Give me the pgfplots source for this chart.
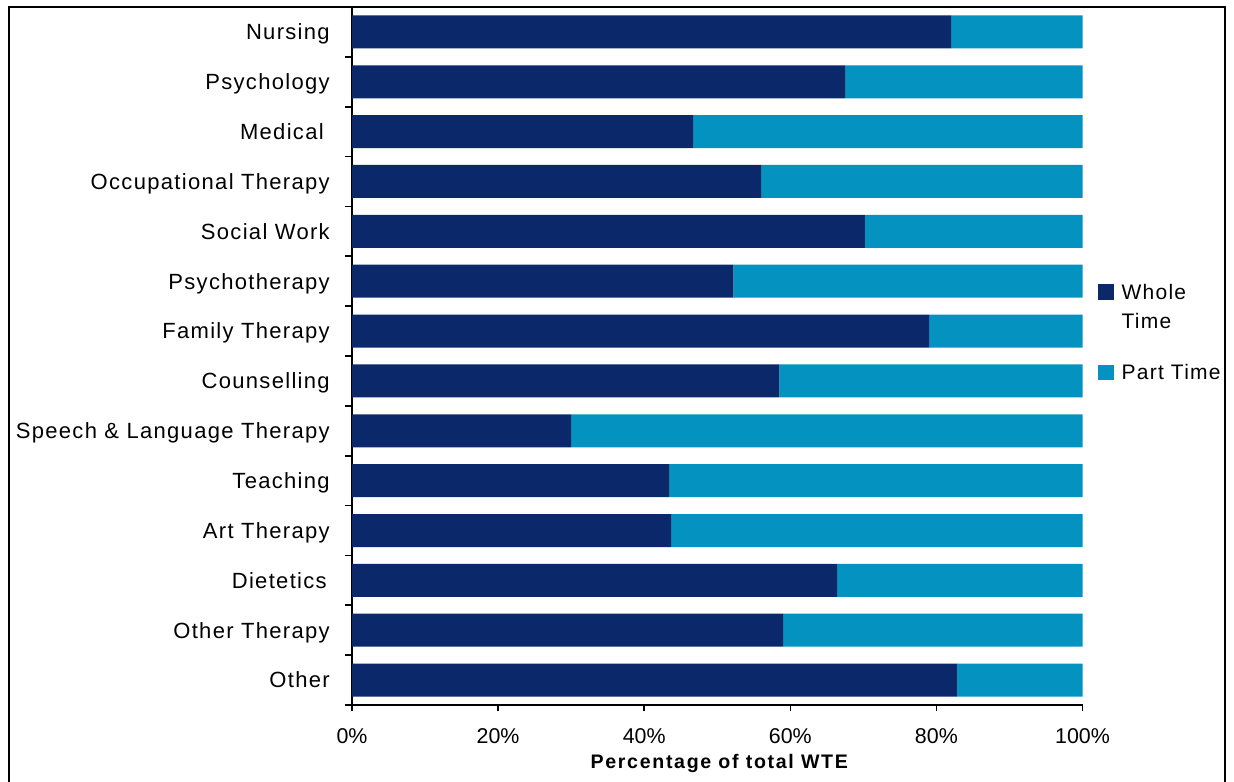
\documentclass[border=0pt]{standalone}
\usepackage{fontspec}
\setmainfont{Liberation Sans}
\newfontfamily\catfont{Liberation Sans}[LetterSpace=6]
\newfontfamily\titlefont{Liberation Sans}[LetterSpace=8.6]
\usepackage{pgfplots}
\usepackage{pgfplotstable}
\pgfplotsset{compat=1.18}
\definecolor{wt}{HTML}{0B286A}
\definecolor{ptc}{HTML}{0492C0}

\pgfplotstableread{
idx whole part
13 82.0 18.0
12 67.5 32.5
11 46.7 53.3
10 56.0 44.0
9  70.2 29.8
8  52.2 47.8
7  79.0 21.0
6  58.5 41.5
5  30.0 70.0
4  43.4 56.6
3  43.7 56.3
2  66.4 33.6
1  59.0 41.0
0  82.8 17.2
}\datatable

\begin{document}
\begin{tikzpicture}
\useasboundingbox (0,0) rectangle (617pt,390.5pt);
\draw[line width=1pt] (4.25pt,-5pt) -- (4.25pt,387pt) -- (612.5pt,387pt) -- (612.5pt,-5pt);
\begin{axis}[
  at={(176pt,38pt)}, anchor=south west,
  width=365.25pt, height=349pt, scale only axis,
  xbar stacked, bar width=16.5pt,
  xmin=0, xmax=100, ymin=-0.5, ymax=13.5,
  axis x line*=bottom, axis y line*=left,
  axis line style={-, line width=0.8pt, black},
  tick style={line width=0.8pt, black},
  tick align=outside,
  major tick length=3pt,
  minor tick length=3.5pt,
  ytick={0,...,13},
  yticklabels={Other, Other Therapy, Dietetics\hspace*{1.5pt}, Art Therapy, Teaching, Speech \& Language Therapy, Counselling, Family Therapy, Psychotherapy, Social Work, Occupational Therapy, Medical\hspace*{3pt}, Psychology, Nursing},
  major y tick style={draw=none},
  minor ytick={-0.5,0.5,...,13.5},
  xtick={0,20,...,100},
  xticklabels={0\%,20\%,40\%,60\%,80\%,100\%},
  yticklabel style={font=\catfont\fontsize{11}{12}\selectfont, anchor=base east, yshift=-3.9pt, xshift=-4.6pt},
  xticklabel style={font=\fontsize{10.7}{12}\selectfont, yshift=-5.4pt},
  xlabel={\titlefont\bfseries Percentage of total WTE},
  xlabel style={at={(axis description cs:0.5,0)}, anchor=base, yshift=-31.5pt, xshift=1pt, font=\fontsize{9.8}{12}\selectfont},
  legend style={draw=none, fill=none, at={(1.0212,0.6087)}, anchor=north west, inner sep=0pt, outer sep=0pt,
    font=\catfont\fontsize{10.5}{14.5}\selectfont, cells={anchor=base west, align=left}, row sep=12.5pt,
    /tikz/every odd column/.append style={column sep=2pt}},
]
\addplot[fill=wt, draw=none, legend image code/.code={\fill[wt] (0pt,14.35pt) rectangle (7.8pt,22pt);}] table[x=whole, y=idx] {\datatable};
\addplot[fill=ptc, draw=none, legend image code/.code={\fill[ptc] (0pt,-0.15pt) rectangle (7.8pt,7.5pt);}] table[x=part, y=idx] {\datatable};
\legend{Whole\\Time, Part Time}
\end{axis}
\end{tikzpicture}
\end{document}
